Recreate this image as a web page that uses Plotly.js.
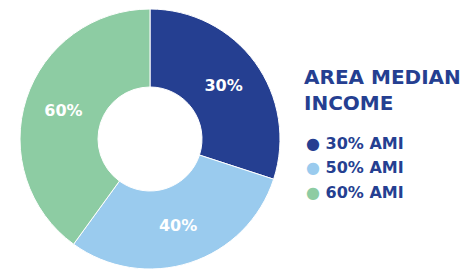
<!DOCTYPE html>
<html><head><meta charset="utf-8">
<script src="https://cdn.plot.ly/plotly-3.0.1.min.js"></script>
<style>html,body{margin:0;padding:0;background:#fff}</style>
</head><body>
<div id="chart" style="width:465px;height:269px"></div>
<script>
const categories = ["30% AMI", "50% AMI", "60% AMI"];
const sliceValues = [30, 30, 40];
const sliceLabels = ["30%", "40%", "60%"];
const colors = ["#253F91", "#9ACBEE", "#8DCCA3"];
const titleText = "AREA MEDIAN<br>INCOME";
const FONT = "'DejaVu Sans', sans-serif";
const TEXT_COLOR = "#253F91";

const W = 465, H = 269, MT = 9;
const PH = H - MT;
const py = px => 1 - (px - MT) / PH;   // pixel-from-top -> paper y

const data = [{
  type: "pie",
  values: sliceValues,
  labels: categories,
  text: sliceLabels,
  textinfo: "text",
  textposition: "inside",
  insidetextorientation: "horizontal",
  textfont: {family: FONT, size: 16, color: "#ffffff", weight: 700},
  marker: {colors: colors, line: {color: "#ffffff", width: 1}},
  hole: 0.4,
  sort: false,
  direction: "clockwise",
  rotation: 0,
  showlegend: false,
  hoverinfo: "skip",
  domain: {x: [19/W, 281/W], y: [0, 1]}
}];

const annotations = [{
  text: "<b>" + titleText + "</b>",
  xref: "paper", yref: "paper", x: 302/W, y: py(63), xanchor: "left", yanchor: "top",
  align: "left", showarrow: false,
  font: {family: FONT, size: 20, color: TEXT_COLOR}
}];
categories.forEach((c, i) => {
  annotations.push({
    text: "<span style='color:" + colors[i] + ";font-size:16px'>●</span><b> " + c + "</b>",
    xref: "paper", yref: "paper", x: 304/W, y: py(143 + i * 24.7),
    xanchor: "left", yanchor: "middle", align: "left", showarrow: false,
    font: {family: FONT, size: 16, color: TEXT_COLOR}
  });
});

const layout = {
  width: W, height: H,
  margin: {l: 0, r: 0, t: MT, b: 0},
  paper_bgcolor: "#ffffff",
  showlegend: false,
  annotations: annotations
};

Plotly.newPlot("chart", data, layout, {displayModeBar: false, staticPlot: true});
</script>
</body></html>
